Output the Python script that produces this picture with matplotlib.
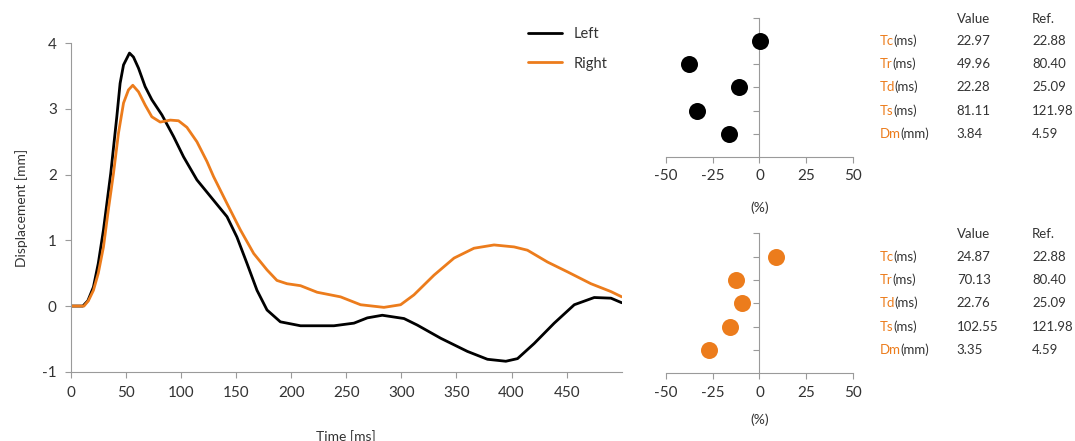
import matplotlib

matplotlib.use("Agg")

import matplotlib.pyplot as plt
import matplotlib.transforms as mtransforms

BLACK = "#000000"
ORANGE = "#EC7C1C"
AXIS_GRAY = "#9A9A9A"
TEXT = "#333333"

# displacement curves
left_t = [0, 11, 15.5, 20.6, 25, 29.7, 36.3, 41.8, 44.8, 47.9, 53.3, 56.9, 61.5, 67.5,
          73.6, 82.7, 93.3, 102.4, 114.5, 129.6, 141.8, 150.8, 159.9, 169, 178.1, 190.2,
          208.5, 238.8, 257, 269.1, 282.7, 302.4, 314.5, 335.7, 359.9, 378.1, 394.8,
          405.4, 420.5, 438.7, 456.9, 475, 490.2, 500]
left_y = [0, 0, 0.08, 0.29, 0.65, 1.16, 2.02, 2.88, 3.39, 3.67, 3.85, 3.79, 3.62, 3.34,
          3.14, 2.91, 2.58, 2.27, 1.92, 1.61, 1.36, 1.05, 0.65, 0.24, -0.06, -0.24,
          -0.30, -0.30, -0.26, -0.18, -0.14, -0.19, -0.29, -0.49, -0.69, -0.81, -0.84,
          -0.80, -0.57, -0.26, 0.02, 0.13, 0.12, 0.05]

right_t = [0, 12, 16, 20.6, 25, 29.7, 34, 38.8, 43.3, 47.9, 52.4, 56.3, 61.5, 67.5, 73.6,
           81.2, 90.3, 97.8, 105.4, 114.5, 123.6, 129.6, 141.8, 153.9, 166, 178.1, 187.1,
           196.2, 208.5, 223.6, 244.8, 263, 284.2, 299.3, 311.4, 329.6, 347.8, 365.9,
           384.1, 402.3, 414.4, 432.6, 450.8, 472, 490.2, 500]
right_y = [0, 0, 0.08, 0.24, 0.50, 0.90, 1.45, 2.02, 2.63, 3.09, 3.29, 3.36, 3.26, 3.06,
           2.88, 2.80, 2.83, 2.82, 2.72, 2.50, 2.20, 1.97, 1.56, 1.16, 0.80, 0.55, 0.39,
           0.34, 0.31, 0.21, 0.14, 0.02, -0.02, 0.02, 0.17, 0.47, 0.73, 0.88,
           0.93, 0.90, 0.85, 0.67, 0.52, 0.34, 0.22, 0.14]

# parameter tables
params = ["Tc", "Tr", "Td", "Ts", "Dm"]
units = ["(ms)", "(ms)", "(ms)", "(ms)", "(mm)"]
left_values = ["22.97", "49.96", "22.28", "81.11", "3.84"]
right_values = ["24.87", "70.13", "22.76", "102.55", "3.35"]
ref_values = ["22.88", "80.40", "25.09", "121.98", "4.59"]

# percent deviation from reference, as placed in the dot panels
left_pct = [0.4, -37.9, -11.2, -33.5, -16.3]
right_pct = [8.7, -12.8, -9.3, -15.9, -27.0]

plt.rcParams.update({
    "font.family": ["Lato", "DejaVu Sans"],
    "font.size": 10,
    "text.color": TEXT,
    "axes.edgecolor": AXIS_GRAY,
    "axes.unicode_minus": False,
    "xtick.color": AXIS_GRAY,
    "ytick.color": AXIS_GRAY,
    "xtick.labelcolor": TEXT,
    "ytick.labelcolor": TEXT,
    "axes.labelcolor": TEXT,
})

fig = plt.figure(figsize=(10.75, 4.41), dpi=100)

# main displacement plot
ax = fig.add_axes([0.0658, 0.157, 0.5126, 0.745])
ax.plot(left_t, left_y, color=BLACK, linewidth=2.0, label="Left",
        solid_joinstyle="round", solid_capstyle="round")
ax.plot(right_t, right_y, color=ORANGE, linewidth=2.0, label="Right",
        solid_joinstyle="round", solid_capstyle="round")
ax.set_xlim(0, 500)
ax.set_ylim(-1, 4)
ax.set_xticks(range(0, 500, 50))
ax.set_yticks(range(-1, 5))
for side in ("top", "right"):
    ax.spines[side].set_visible(False)
ax.tick_params(labelsize=11, length=4, width=0.8, pad=6)
ax.set_xlabel("Time [ms]", fontsize=10, labelpad=22)
ax.set_ylabel("Displacement [mm]", fontsize=10, labelpad=10)
ax.legend(loc="upper left", bbox_to_anchor=(0.479, 0.968), bbox_transform=fig.transFigure,
          frameon=False, fontsize=10.5, handlelength=2.3, labelspacing=1.05,
          handletextpad=0.8)


def dot_panel(rect, pct, color, values, labelpad):
    dax = fig.add_axes(rect)
    rows = list(range(1, len(pct) + 1))
    dax.scatter(pct, rows, s=150, color=color, zorder=3, linewidths=0)
    dax.set_xlim(-50, 50)
    dax.set_ylim(6, 0)
    dax.set_xticks([-50, -25, 0, 25, 50])
    dax.set_yticks(range(0, 6))
    dax.set_yticklabels([])
    dax.spines["left"].set_position(("data", 0))
    for side in ("top", "right"):
        dax.spines[side].set_visible(False)
    dax.tick_params(axis="x", labelsize=11, length=4, width=0.8, pad=5)
    dax.tick_params(axis="y", length=4, width=0.8)
    dax.set_xlabel("(%)", fontsize=10, labelpad=labelpad)

    trans = mtransforms.blended_transform_factory(fig.transFigure, dax.transData)
    x_name, x_val, x_ref = 0.818, 0.890, 0.960
    fig.text(x_val, 0.05, "Value", transform=trans, fontsize=9.5, va="center", ha="left")
    fig.text(x_ref, 0.05, "Ref.", transform=trans, fontsize=9.5, va="center", ha="left")
    for row, name, unit, val, ref in zip(rows, params, units, values, ref_values):
        t = fig.text(x_name, row, name, transform=trans, fontsize=9.5, va="center",
                     ha="left", color=ORANGE)
        dax.annotate(unit, xy=(1, 0), xycoords=t, va="bottom", ha="left",
                     fontsize=9.5, color=TEXT, annotation_clip=False)
        fig.text(x_val, row, val, transform=trans, fontsize=9.5, va="center", ha="left")
        fig.text(x_ref, row, ref, transform=trans, fontsize=9.5, va="center", ha="left")
    return dax


dot_panel([0.6195, 0.6447, 0.174, 0.3138], left_pct, BLACK, left_values, 13)
dot_panel([0.6195, 0.1535, 0.174, 0.3175], right_pct, ORANGE, right_values, 10)

fig.savefig("out.png", dpi=100)
